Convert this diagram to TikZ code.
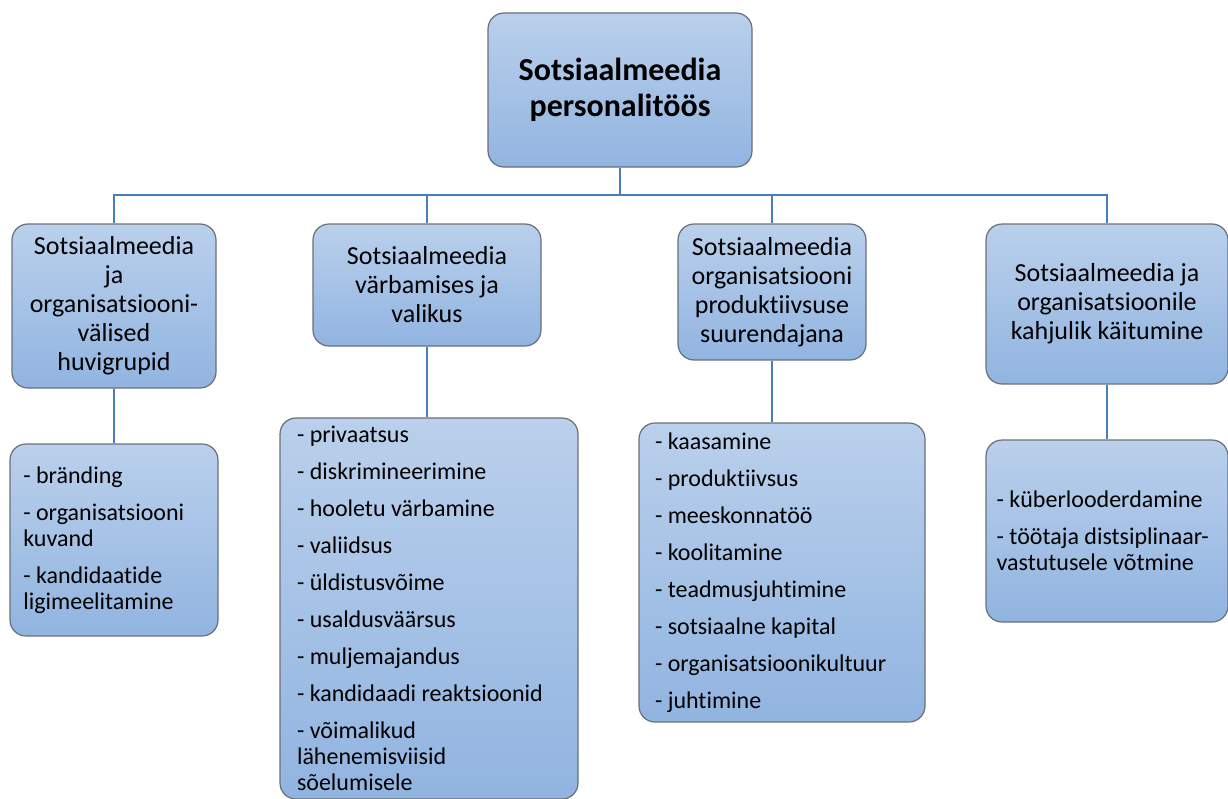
\documentclass[tikz,border=0pt]{standalone}
\usepackage{fontspec}
\setmainfont[Ligatures=NoCommon]{Carlito}
\usetikzlibrary{positioning,calc}
\definecolor{boxtop}{RGB}{186,208,236}
\definecolor{boxbottom}{RGB}{145,180,224}
\definecolor{boxborder}{RGB}{105,112,122}
\definecolor{linkblue}{RGB}{74,126,187}

\begin{document}
\begin{tikzpicture}[
    x=0.75pt, y=-0.75pt,
    box/.style={draw=boxborder, line width=0.9pt, rounded corners=12pt, top color=boxtop, bottom color=boxbottom, align=center, inner sep=0pt},
    rootnode/.style={box, font=\fontsize{24}{27}\selectfont\bfseries, minimum width=198pt, minimum height=115.5pt},
    topicnode/.style={box, font=\fontsize{19.5}{21.75}\selectfont},
    listnode/.style={box, font=\fontsize{18}{19.5}\selectfont, align=flush left, inner xsep=10pt},
    link/.style={linkblue, line width=1.8pt}
]
\useasboundingbox (0,0) rectangle (1228,799);

% Root of the tree
\node[rootnode] (root) at (620,90) {Sotsiaalmeedia\\personalitöös};

% Second level topics
\node[topicnode, minimum width=153pt, minimum height=123pt] (topic_groups) at (114,306) {Sotsiaalmeedia\\ja\\organisatsiooni-\\välised\\huvigrupid};
\node[topicnode, minimum width=171pt, minimum height=91.5pt] (topic_hiring) at (427,285) {Sotsiaalmeedia\\värbamises ja\\valikus};
\node[topicnode, minimum width=141pt, minimum height=102pt] (topic_productivity) at (772,292) {Sotsiaalmeedia\\organisatsiooni\\produktiivsuse\\suurendajana};
\node[topicnode, minimum width=181.5pt, minimum height=120pt] (topic_harm) at (1107,304) {Sotsiaalmeedia ja\\organisatsioonile\\kahjulik käitumine};

% Third level lists
\node[listnode, text width=136pt, minimum height=144pt] (list_groups) at (114,540) {- bränding\\[8.25pt]
- organisatsiooni\\kuvand\\[8.25pt]
- kandidaatide\\ligimeelitamine};
\node[listnode, inner xsep=12.75pt, text width=198pt, minimum height=285.75pt] (list_hiring) at (429,608.5) {- privaatsus\\[8.25pt]
- diskrimineerimine\\[8.25pt]
- hooletu värbamine\\[8.25pt]
- valiidsus\\[8.25pt]
- üldistusvõime\\[8.25pt]
- usaldusväärsus\\[8.25pt]
- muljemajandus\\[8.25pt]
- kandidaadi reaktsioonid\\[8.25pt]
- võimalikud\\lähenemisviisid\\sõelumisele};
\node[listnode, inner xsep=12pt, text width=190.5pt, minimum height=224.25pt] (list_productivity) at (782,572.5) {- kaasamine\\[8.25pt]
- produktiivsus\\[8.25pt]
- meeskonnatöö\\[8.25pt]
- koolitamine\\[8.25pt]
- teadmusjuhtimine\\[8.25pt]
- sotsiaalne kapital\\[8.25pt]
- organisatsioonikultuur\\[8.25pt]
- juhtimine};
\node[listnode, inner xsep=8pt, text width=165.5pt, minimum height=136.5pt] (list_harm) at (1107,531) {- küberlooderdamine\\[8.25pt]
- töötaja distsiplinaar-\\vastutusele võtmine};

% Connectors
\coordinate (bus) at (620,195);
\draw[link] (root.south) -- (bus);
\draw[link] (bus) -| (topic_groups.north);
\draw[link] (bus) -| (topic_hiring.north);
\draw[link] (bus) -| (topic_productivity.north);
\draw[link] (bus) -| (topic_harm.north);

\draw[link] (topic_groups.south) -- (topic_groups.south |- list_groups.north);
\draw[link] (topic_hiring.south) -- (topic_hiring.south |- list_hiring.north);
\draw[link] (topic_productivity.south) -- (topic_productivity.south |- list_productivity.north);
\draw[link] (topic_harm.south) -- (topic_harm.south |- list_harm.north);

\end{tikzpicture}
\end{document}
